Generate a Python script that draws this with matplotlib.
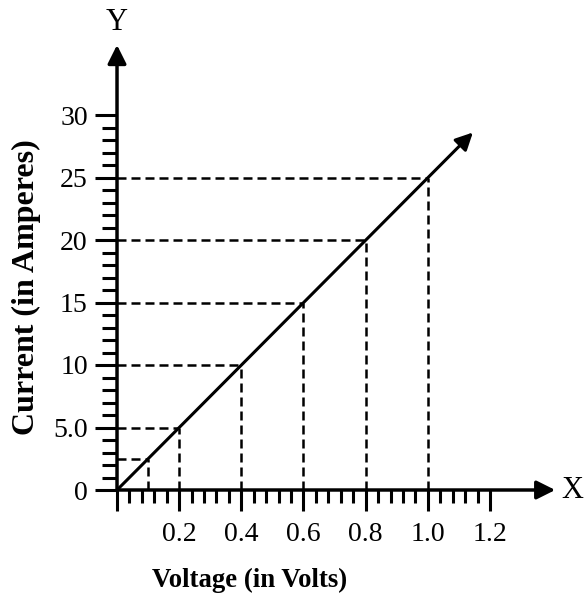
import matplotlib

matplotlib.use("Agg")
import matplotlib.pyplot as plt
import numpy as np

# data
voltage_pts = [0.1, 0.2, 0.4, 0.6, 0.8, 1.0]
current_pts = [2.5, 5, 10, 15, 20, 25]
line_v = [0.0, 1.145]
line_i = [0.0, 28.6]

x_major = [0, 0.2, 0.4, 0.6, 0.8, 1.0, 1.2]
x_labels = ["", "0.2", "0.4", "0.6", "0.8", "1.0", "1.2"]
x_minor = np.round(np.arange(0, 1.2001, 0.04), 3)
y_major = [0, 5, 10, 15, 20, 25, 30]
y_labels = ["0", "5.0", "10", "15", "20", "25", "30"]
y_minor = np.arange(0, 31, 1)

serif = "Liberation Serif"

fig = plt.figure(figsize=(5.87, 5.97), dpi=100)
ax = fig.add_axes([0, 0, 1, 1])
ax.set_xlim(-0.3765, 1.5122)
ax.set_ylim(-8.56, 39.2)

# axes through the origin
for side in ("top", "right"):
    ax.spines[side].set_visible(False)
ax.spines["left"].set_position(("data", 0))
ax.spines["bottom"].set_position(("data", 0))
ax.spines["left"].set_visible(False)
ax.spines["bottom"].set_visible(False)

arrow_kw = dict(arrowstyle="-|>", color="black", lw=2.5, mutation_scale=28,
                shrinkA=0, shrinkB=0)
ax.annotate("", xy=(1.41, 0), xytext=(0, 0), arrowprops=arrow_kw)
ax.annotate("", xy=(0, 35.6), xytext=(0, 0), arrowprops=arrow_kw)

ax.set_xticks(x_major)
ax.set_xticklabels(x_labels, fontfamily=serif, fontsize=20)
ax.set_xticks([v for v in x_minor if not np.isclose(v % 0.2, 0) and not np.isclose(v % 0.2, 0.2)], minor=True)
ax.set_yticks(y_major)
ax.set_yticklabels(y_labels, fontfamily=serif, fontsize=20)
ax.set_yticks([v for v in y_minor if v % 5 != 0], minor=True)
ax.tick_params(axis="x", which="major", direction="out", length=15, width=2.2, pad=8)
ax.tick_params(axis="x", which="minor", direction="out", length=9.5, width=2.2)
ax.tick_params(axis="y", which="major", direction="out", length=16, width=2.2, pad=5)
ax.tick_params(axis="y", which="minor", direction="out", length=11, width=2.2)

# dashed guide lines
for v, i in zip(voltage_pts, current_pts):
    ax.plot([0, v], [i, i], color="black", lw=1.8, linestyle=(0, (3.6, 2)))
    ax.plot([v, v], [0, i], color="black", lw=1.8, linestyle=(0, (3.6, 2)))

# main line with arrow
ax.annotate("", xy=(line_v[1], line_i[1]), xytext=(line_v[0], line_i[0]),
            arrowprops=dict(arrowstyle="-|>", color="black", lw=2.2,
                            mutation_scale=26, shrinkA=0, shrinkB=0))

ax.text(1.43, 0, "X", fontfamily=serif, fontsize=22, ha="left", va="center")
ax.text(0, 37.4, "Y", fontfamily=serif, fontsize=22, ha="center", va="center")

ax.text(0.428, -7.2, "Voltage (in Volts)", fontfamily=serif, fontweight="bold",
        fontsize=19.3, ha="center", va="center")
ax.text(-0.29, 16.24, "Current (in Amperes)", fontfamily=serif, fontweight="bold",
        fontsize=23, ha="center", va="center", rotation=90)

fig.savefig("out.png", dpi=100)
plt.close(fig)
